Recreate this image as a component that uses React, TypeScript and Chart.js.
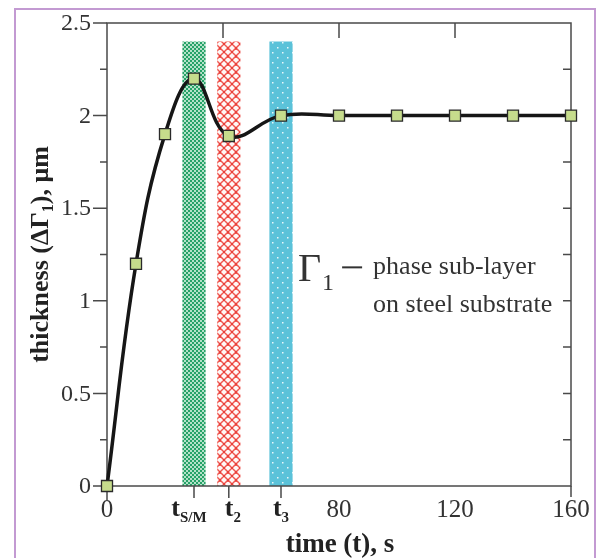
import React, { useEffect, useRef } from "react";
import { Chart, registerables } from "chart.js";
Chart.register(...registerables);

const timeValues = [0, 10, 20, 30, 42, 60, 80, 100, 120, 140, 160];
const thicknessValues = [0, 1.2, 1.9, 2.2, 1.89, 2.0, 2.0, 2.0, 2.0, 2.0, 2.0];
const yTickValues = [0, 0.5, 1, 1.5, 2, 2.5];
const yTickLabels = ["0", "0.5", "1", "1.5", "2", "2.5"];
const yMinorValues = [0.25, 0.75, 1.25, 1.75, 2.25];
const xNumTicks = [0, 80, 120, 160];
const xNumLabels = ["0", "80", "120", "160"];
const tTicks = [30, 42, 60];
const tTickSubs = ["S/M", "2", "3"];
const topTicks = [40, 80, 120];
const bandFrom = [26, 38, 56];
const bandTo = [34, 46, 64];
const bandKinds = ["green", "red", "blue"];
const bandTop = 2.4;

const serif = "'Liberation Serif','Times New Roman',serif";

type Run = { t: string; font: string; dy?: number };

function drawRuns(ctx: CanvasRenderingContext2D, runs: Run[], x: number, y: number, align: "left" | "center") {
  let total = 0;
  for (const r of runs) {
    ctx.font = r.font;
    total += ctx.measureText(r.t).width;
  }
  let cx = align === "center" ? x - total / 2 : x;
  ctx.textAlign = "left";
  ctx.textBaseline = "alphabetic";
  for (const r of runs) {
    ctx.font = r.font;
    ctx.fillText(r.t, cx, y + (r.dy || 0));
    cx += ctx.measureText(r.t).width;
  }
}

function makePattern(ctx: CanvasRenderingContext2D, kind: string): CanvasPattern | string {
  const c = document.createElement("canvas");
  if (kind === "green") {
    c.width = 4; c.height = 4;
    const g = c.getContext("2d")!;
    g.fillStyle = "#26a268";
    g.fillRect(0, 0, 4, 4);
    g.fillStyle = "#b4e2c9";
    g.fillRect(0, 0, 2, 2);
    g.fillRect(2, 2, 2, 2);
  } else if (kind === "red") {
    c.width = 8; c.height = 8;
    const g = c.getContext("2d")!;
    g.fillStyle = "#fff7f6";
    g.fillRect(0, 0, 8, 8);
    g.strokeStyle = "#f05750";
    g.lineWidth = 1.5;
    g.beginPath();
    g.moveTo(0, 4); g.lineTo(4, 0); g.lineTo(8, 4); g.lineTo(4, 8); g.closePath();
    g.stroke();
    g.fillStyle = "#e8403a";
    g.fillRect(3, -1, 2, 2);
    g.fillRect(3, 7, 2, 2);
    g.fillRect(-1, 3, 2, 2);
    g.fillRect(7, 3, 2, 2);
  } else {
    c.width = 10; c.height = 10;
    const g = c.getContext("2d")!;
    g.fillStyle = "#5bc2d9";
    g.fillRect(0, 0, 10, 10);
    g.fillStyle = "#e8f8fb";
    g.fillRect(2, 2, 1.5, 1.5);
    g.fillRect(7, 7, 1.5, 1.5);
  }
  return ctx.createPattern(c, "repeat") || "#888";
}

const decorPlugin = {
  id: "decor",
  beforeDatasetsDraw(chart: any) {
    const ctx: CanvasRenderingContext2D = chart.ctx;
    const xs = chart.scales.x;
    const ys = chart.scales.y;
    const area = chart.chartArea;
    ctx.save();
    ctx.strokeStyle = "#c39ad2";
    ctx.lineWidth = 2;
    ctx.strokeRect(15, 9, 580, 570);

    for (let i = 0; i < bandFrom.length; i++) {
      const x0 = xs.getPixelForValue(bandFrom[i]);
      const x1 = xs.getPixelForValue(bandTo[i]);
      const y0 = ys.getPixelForValue(bandTop);
      const y1 = ys.getPixelForValue(0);
      ctx.fillStyle = makePattern(ctx, bandKinds[i]) as any;
      ctx.fillRect(x0, y0, x1 - x0, y1 - y0);
    }

    ctx.strokeStyle = "#4a4a4a";
    ctx.lineWidth = 1.5;
    ctx.strokeRect(area.left, area.top, area.right - area.left, area.bottom - area.top);
    ctx.beginPath();
    ctx.moveTo(area.left, area.bottom); ctx.lineTo(area.left, area.bottom + 14);
    ctx.moveTo(area.right, area.bottom); ctx.lineTo(area.right, area.bottom + 11);
    for (const v of yTickValues) {
      const py = ys.getPixelForValue(v);
      ctx.moveTo(area.left - 14, py); ctx.lineTo(area.left, py);
    }
    for (const v of yMinorValues) {
      const py = ys.getPixelForValue(v);
      ctx.moveTo(area.left - 7, py); ctx.lineTo(area.left, py);
      ctx.moveTo(area.right - 8, py); ctx.lineTo(area.right, py);
    }
    for (const v of yTickValues) {
      if (v === 0 || v === 2.5) continue;
      const py = ys.getPixelForValue(v);
      ctx.moveTo(area.right - 8, py); ctx.lineTo(area.right, py);
    }
    for (const v of topTicks) {
      const px = xs.getPixelForValue(v);
      ctx.moveTo(px, area.top); ctx.lineTo(px, area.top + 15);
    }
    for (const v of tTicks) {
      const px = xs.getPixelForValue(v);
      ctx.moveTo(px, area.bottom); ctx.lineTo(px, area.bottom + 12);
    }
    ctx.stroke();
    ctx.restore();
  },
  afterDraw(chart: any) {
    const ctx: CanvasRenderingContext2D = chart.ctx;
    const xs = chart.scales.x;
    const ys = chart.scales.y;
    const area = chart.chartArea;
    ctx.save();
    ctx.fillStyle = "#333";
    ctx.font = `24px ${serif}`;
    ctx.textAlign = "right";
    ctx.textBaseline = "middle";
    yTickValues.forEach((v, i) => {
      ctx.fillText(yTickLabels[i], area.left - 16, ys.getPixelForValue(v) + 1);
    });
    ctx.textAlign = "center";
    ctx.textBaseline = "alphabetic";
    xNumTicks.forEach((v, i) => {
      ctx.font = `25px ${serif}`;
      ctx.fillText(xNumLabels[i], xs.getPixelForValue(v), area.bottom + 31);
    });
    ctx.fillStyle = "#222";
    tTicks.forEach((v, i) => {
      drawRuns(
        ctx,
        [
          { t: "t", font: `bold 26px ${serif}` },
          { t: tTickSubs[i], font: `bold 15px ${serif}`, dy: 6 },
        ],
        xs.getPixelForValue(v) - (i === 0 ? 5 : 0) + (i === 1 ? 4 : 0),
        area.bottom + 30,
        "center"
      );
    });
    drawRuns(ctx, [{ t: "time (t), s", font: `bold 27px ${serif}` }], (area.left + area.right) / 2 + 1, 552, "center");
    ctx.save();
    ctx.translate(48, (area.top + area.bottom) / 2);
    ctx.rotate(-Math.PI / 2);
    drawRuns(
      ctx,
      [
        { t: "thickness (\u0394\u0393", font: `bold 26px ${serif}` },
        { t: "1", font: `bold 16px ${serif}`, dy: 5 },
        { t: "), \u03bcm", font: `bold 26px ${serif}` },
      ],
      0,
      0,
      "center"
    );
    ctx.restore();
    ctx.fillStyle = "#333";
    const ax = xs.getPixelForValue(65.9);
    const ay = ys.getPixelForValue(1.105);
    drawRuns(ctx, [{ t: "\u0393", font: `40px ${serif}` }], ax, ay, "left");
    drawRuns(ctx, [{ t: "1", font: `24px ${serif}` }], ax + 24, ay + 9, "left");
    ctx.fillRect(ax + 44, ay - 15, 20, 2);
    drawRuns(ctx, [{ t: "phase sub-layer", font: `26px ${serif}` }], ax + 75, ay - 7, "left");
    drawRuns(ctx, [{ t: "on steel substrate", font: `26px ${serif}` }], ax + 75, ay + 31, "left");
    ctx.restore();
  },
};

export default function App() {
  const ref = useRef<HTMLCanvasElement | null>(null);
  useEffect(() => {
    if (!ref.current) return;
    const chart = new Chart(ref.current, {
      type: "line",
      data: {
        datasets: [
          {
            data: timeValues.map((t, i) => ({ x: t, y: thicknessValues[i] })),
            borderColor: "#161616",
            borderWidth: 3.5,
            tension: 0.4,
            pointStyle: "rect",
            pointRadius: 7.8,
            pointBorderWidth: 1.3,
            pointBorderColor: "#2a2a2a",
            pointBackgroundColor: "#c6dc8c",
            clip: false as any,
          },
        ],
      },
      options: {
        responsive: false,
        animation: false,
        layout: { padding: { left: 107, top: 23, right: 29, bottom: 72 } },
        plugins: { legend: { display: false }, tooltip: { enabled: false } },
        scales: {
          x: { type: "linear", min: 0, max: 160, display: false },
          y: { type: "linear", min: 0, max: 2.5, display: false },
        },
      },
      plugins: [decorPlugin],
    });
    return () => chart.destroy();
  }, []);
  return (
    <div style={{ position: "absolute", left: 0, top: 0, width: 600, height: 558, background: "#fff" }}>
      <canvas ref={ref} width={600} height={558} />
    </div>
  );
}
